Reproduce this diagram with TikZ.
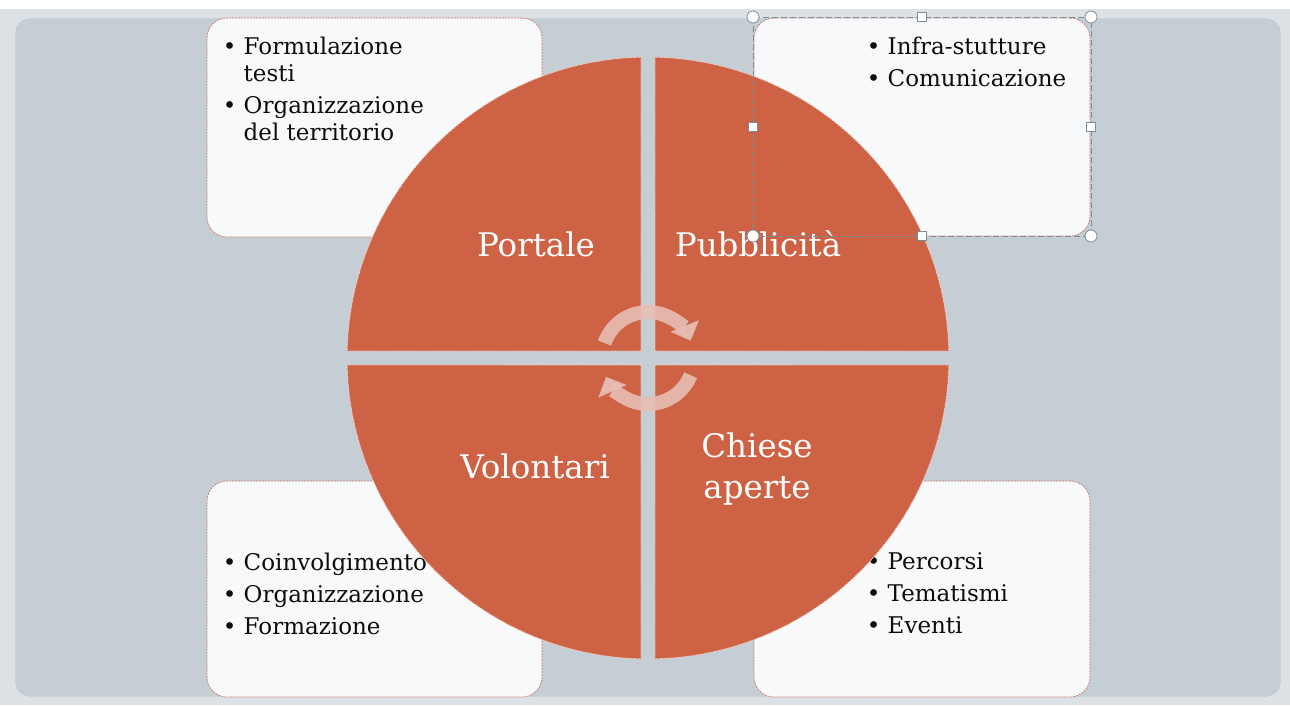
\documentclass[tikz,border=0pt]{standalone}
\usepackage{fontspec}
\setmainfont{DejaVu Serif}
\usepackage{color}
\usepackage{tikz}
\usetikzlibrary{positioning}
\usetikzlibrary{arrows.meta}
\usetikzlibrary{calc}

\definecolor{framebg}{HTML}{DCE1E5}
\definecolor{slidebg}{HTML}{C4CED4}
\definecolor{boxfill}{HTML}{F7F9FA}
\definecolor{boxline}{HTML}{C9766A}
\definecolor{quadfill}{HTML}{CE6245}
\definecolor{arrowpink}{HTML}{E8BDB4}
\definecolor{selgray}{HTML}{7D8C9A}

\tikzset{
  listbox/.style={draw=boxline, line width=0.7pt, dash pattern=on 2pt off 1pt, fill=boxfill, rounded corners=20pt, inner sep=0pt},
  itemlist/.style={align=left, inner sep=0pt, anchor=north west, font=\fontsize{23}{27}\selectfont, text=black!95},
  quadrant/.style={fill=quadfill, draw=white!75!quadfill, line width=0.9pt, dash pattern=on 1.5pt off 1pt},
  quadlabel/.style={text=white, font=\fontsize{32.5}{41}\selectfont, align=center},
  cyclearrow/.style={line width=14pt, draw=arrowpink, -{Triangle[width=30pt,length=16pt]}},
  selhandle/.style={fill=white, draw=selgray, line width=0.8pt}
}

\newcommand{\bul}{\textbullet\ }
\newcommand{\ind}{\hphantom{\textbullet\ }}

\begin{document}
\begin{tikzpicture}[x=1pt,y=-1pt]
    \useasboundingbox (0,0) rectangle (1290,705);
    \fill[framebg] (0,0) rectangle (1290,705);
    \fill[white] (0,0) rectangle (1290,9);
    \draw[fill=slidebg, draw=white!70!slidebg, rounded corners=14pt] (15,18) rectangle (1281,697);

    \node[listbox, minimum width=335pt, minimum height=219pt] (boxtl) at (374.5,127.5) {};
    \node[listbox, minimum width=336pt, minimum height=218pt] (boxtr) at (922,127) {};
    \node[listbox, minimum width=335pt, minimum height=216pt] (boxbl) at (374.5,589) {};
    \node[listbox, minimum width=336pt, minimum height=216pt] (boxbr) at (922,589) {};

    \node[itemlist] (listtl) at ([xshift=16pt,yshift=-19pt]boxtl.north west)
      {\bul Formulazione\\\ind testi\\[5pt]\bul Organizzazione\\\ind del territorio};
    \node[itemlist] (listtr) at ([xshift=113pt,yshift=-19pt]boxtr.north west)
      {\bul Infra-stutture\\[5pt]\bul Comunicazione};
    \node[itemlist] (listbl) at ([xshift=16pt,yshift=-72pt]boxbl.north west)
      {\bul Coinvolgimento\\[5pt]\bul Organizzazione\\[5pt]\bul Formazione};
    \node[itemlist] (listbr) at ([xshift=113pt,yshift=-72pt]boxbr.north west)
      {\bul Percorsi\\[5pt]\bul Tematismi\\[5pt]\bul Eventi};

    \coordinate (c) at (648,358);
    \foreach \a in {0,90,180,270}
      \draw[quadrant] ($(c)+(\a+45:9.9)$) -- ($(c)+(\a+1.33:301)$)
        arc[start angle=\a+1.33, end angle=\a+88.67, radius=301] -- cycle;

    \node[quadlabel] (portale) at (536,244) {Portale};
    \node[quadlabel] (pubblicita) at (758,244) {Pubblicità};
    \node[quadlabel] (volontari) at (535,466) {Volontari};
    \node[quadlabel] (chiese) at (757,469) {Chiese\\aperte};

    \draw[cyclearrow, opacity=0.9] ($(c)+(-161:46)$) arc[start angle=-161, end angle=-22, radius=46];
    \draw[cyclearrow, opacity=0.9] ($(c)+(22:46)$) arc[start angle=22, end angle=156, radius=46];

    \draw[selgray, line width=0.8pt, dash pattern=on 6pt off 3pt] (753,17) rectangle (1091,236);
    \foreach \p in {(753,17),(1091,17),(753,236),(1091,236)}
      \draw[selhandle] \p circle (6);
    \foreach \p in {(922,17),(922,236),(753,127),(1091,127)}
      \draw[selhandle] \p ++(-4.5,-4.5) rectangle ++(9,9);
\end{tikzpicture}
\end{document}
